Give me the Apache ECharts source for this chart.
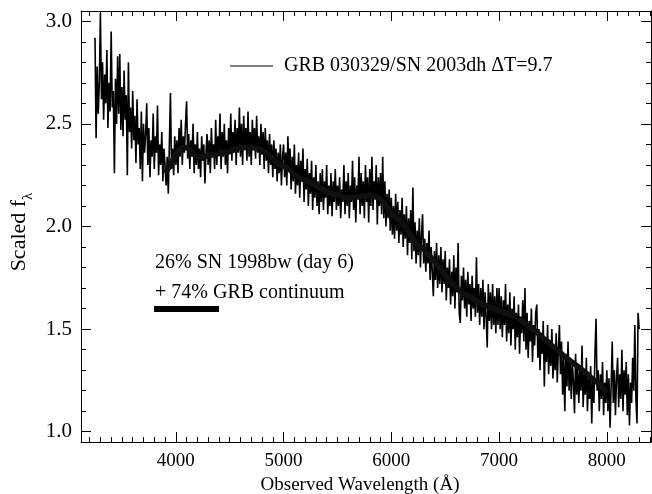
<!DOCTYPE html>
<html>
<head>
<meta charset="utf-8">
<script src="https://cdn.jsdelivr.net/npm/echarts@6.0.0/dist/echarts.min.js"></script>
<style>
  html, body { margin: 0; padding: 0; background: #fff; }
  #chart { width: 652px; height: 494px; }
</style>
</head>
<body>
<div id="chart"></div>
<script>
// Observed spectrum of GRB 030329 / SN 2003dh, sampled every 10 Å from 3250 Å
const SPEC_START = 3250;
const SPEC_STEP = 10;
const specFlux = [
  2.92,2.43,2.78,2.55,2.70,3.04,2.62,2.80,2.52,2.74,
  2.60,2.86,2.48,2.70,2.56,2.95,2.58,2.66,2.26,2.72,
  2.50,2.83,2.55,2.84,2.47,2.68,2.44,2.76,2.52,2.64,
  2.25,2.80,2.46,2.58,2.38,2.66,2.42,2.54,2.31,2.62,
  2.40,2.48,2.28,2.56,2.22,2.50,2.36,2.45,2.60,2.30,
  2.48,2.24,2.42,2.34,2.55,2.28,2.44,2.36,2.59,2.25,
  2.40,2.30,2.46,2.22,2.38,2.30,2.20,2.34,2.16,2.40,
  2.65,2.28,2.38,2.25,2.44,2.30,2.42,2.26,2.48,2.34,
  2.52,2.30,2.44,2.36,2.50,2.61,2.33,2.45,2.28,2.42,
  2.34,2.50,2.26,2.40,2.30,2.46,2.28,2.38,2.24,2.44,
  2.32,2.40,2.21,2.36,2.45,2.30,2.42,2.26,2.48,2.34,
  2.40,2.28,2.52,2.30,2.44,2.36,2.55,2.28,2.46,2.34,
  2.50,2.30,2.42,2.26,2.48,2.36,2.55,2.32,2.46,2.38,
  2.52,2.30,2.48,2.36,2.58,2.34,2.50,2.30,2.54,2.38,
  2.48,2.32,2.56,2.34,2.46,2.30,2.52,2.38,2.48,2.33,
  2.54,2.36,2.44,2.30,2.50,2.35,2.46,2.28,2.48,2.32,
  2.42,2.26,2.45,2.30,2.40,2.24,2.42,2.28,2.38,2.22,
  2.36,2.26,2.40,2.20,2.34,2.40,2.24,2.36,2.20,2.44,
  2.28,2.38,2.18,2.34,2.22,2.40,2.16,2.30,2.20,2.36,
  2.14,2.32,2.22,2.38,2.12,2.28,2.18,2.33,2.10,2.26,
  2.16,2.32,2.08,2.24,2.14,2.30,2.10,2.22,2.06,2.26,
  2.12,2.28,2.08,2.22,2.14,2.30,2.06,2.20,2.10,2.26,
  2.05,2.22,2.12,2.28,2.08,2.20,2.10,2.24,2.04,2.18,
  2.12,2.30,2.06,2.22,2.10,2.26,2.04,2.20,2.12,2.32,
  2.08,2.24,2.02,2.20,2.14,2.34,2.06,2.26,2.10,2.22,
  2.04,2.30,2.12,2.24,2.02,2.28,2.10,2.34,2.08,2.22,
  2.14,2.30,2.01,2.24,2.10,2.26,2.06,2.34,2.04,2.22,
  2.00,2.16,2.04,2.18,1.98,2.14,1.96,2.10,1.94,2.16,
  1.98,2.12,1.92,2.08,1.96,2.14,1.90,2.06,1.94,2.10,
  1.86,2.04,1.92,2.08,1.84,2.19,1.88,2.02,1.82,1.98,
  1.86,2.04,1.80,1.96,2.06,1.82,1.94,1.78,1.92,1.82,
  1.98,1.74,1.90,1.78,1.66,1.88,1.74,1.92,1.70,1.86,
  1.72,1.90,1.68,1.84,1.72,1.88,1.64,1.80,1.70,1.84,
  1.62,1.78,1.66,1.86,1.60,1.80,1.68,1.92,1.58,1.53,
  1.76,1.64,1.80,1.60,1.74,1.56,1.78,1.62,1.72,1.54,
  1.76,1.60,1.70,1.56,1.85,1.58,1.72,1.52,1.70,1.56,
  1.74,1.50,1.68,1.56,1.41,1.72,1.54,1.68,1.50,1.72,
  1.52,1.66,1.48,1.70,1.52,1.70,1.50,1.66,1.46,1.64,
  1.52,1.72,1.44,1.62,1.48,1.68,1.42,1.60,1.50,1.66,
  1.40,1.58,1.46,1.62,1.38,1.56,1.48,1.64,1.44,1.70,
  1.40,1.58,1.36,1.54,1.44,1.60,1.34,1.52,1.42,1.58,
  1.62,1.36,1.50,1.30,1.48,1.38,1.54,1.22,1.46,1.34,
  1.52,1.28,1.44,1.32,1.50,1.26,1.42,1.30,1.48,1.24,
  1.40,1.52,1.28,1.44,1.18,1.36,1.10,1.38,1.22,1.44,
  1.20,1.36,1.16,1.34,1.24,1.09,1.38,1.18,1.32,1.14,
  1.30,1.20,1.42,1.12,1.28,1.18,1.36,1.10,1.26,1.16,
  1.32,1.04,1.26,1.14,1.38,1.55,1.20,1.30,1.10,1.28,
  1.16,1.34,1.08,1.24,1.14,1.30,1.10,1.26,1.02,1.22,
  1.44,1.14,1.30,1.08,1.26,1.36,1.12,1.28,1.16,1.40,
  1.10,1.30,1.18,1.34,1.08,1.28,1.03,1.24,1.14,1.36,
  1.20,1.52,1.16,1.04,1.58,1.50
];

// Template: 26% SN 1998bw (day 6) + 74% GRB continuum, every 50 Å from 3900 Å
const MODEL_START = 3900;
const MODEL_STEP = 50;
const modelFlux = [
  2.26,2.30,2.35,2.38,2.385,2.36,2.34,2.34,2.345,2.35,
  2.355,2.36,2.365,2.375,2.385,2.385,2.385,2.38,2.37,2.355,
  2.33,2.305,2.295,2.28,2.255,2.235,2.225,2.215,2.20,2.185,
  2.17,2.16,2.155,2.145,2.14,2.14,2.145,2.15,2.15,2.145,
  2.135,2.10,2.06,2.04,2.02,1.98,1.94,1.905,1.89,1.86,
  1.83,1.80,1.765,1.73,1.705,1.68,1.665,1.65,1.635,1.62,
  1.61,1.60,1.59,1.58,1.57,1.56,1.545,1.525,1.505,1.485,
  1.46,1.44,1.415,1.395,1.37,1.35,1.33,1.31,1.29,1.265,
  1.245,1.22,1.19
];

const X_RANGE = [3120, 8410];
const Y_RANGE = [0.95, 3.05];

const specLabel = 'GRB 030329/SN 2003dh \u0394T=9.7';
const modelLabel1 = '26% SN 1998bw (day 6)';
const modelLabel2 = '+ 74% GRB continuum';

const SERIF = "'Liberation Serif', 'Times New Roman', Times, serif";

const specData = specFlux.map((f, i) => [SPEC_START + i * SPEC_STEP, f]);
const modelData = modelFlux.map((f, i) => [MODEL_START + i * MODEL_STEP, f]);

const tickCommon = {
  axisLine: { show: true, onZero: false, lineStyle: { color: '#000', width: 1 } },
  axisTick: { show: true, inside: true, length: 10, lineStyle: { color: '#000', width: 1 } },
  minorTick: { show: true, length: 5, lineStyle: { color: '#000', width: 1 } },
  splitLine: { show: false },
  minorSplitLine: { show: false }
};

function xAxisDef(pos, withLabels) {
  return Object.assign({
    type: 'value', position: pos, min: X_RANGE[0], max: X_RANGE[1],
    splitNumber: 5,
    axisLabel: {
      show: withLabels, margin: 10, color: '#000',
      fontFamily: SERIF, fontSize: 19,
      showMinLabel: false, showMaxLabel: false,
      formatter: v => String(Math.round(v))
    }
  }, tickCommon, { minorTick: Object.assign({}, tickCommon.minorTick, { splitNumber: 10 }) });
}

function yAxisDef(pos, withLabels) {
  return Object.assign({
    type: 'value', position: pos, min: Y_RANGE[0], max: Y_RANGE[1],
    splitNumber: 5,
    axisLabel: {
      show: withLabels, margin: 9, color: '#000',
      fontFamily: SERIF, fontSize: 21,
      showMinLabel: false, showMaxLabel: false,
      formatter: v => v.toFixed(1)
    }
  }, tickCommon, { minorTick: Object.assign({}, tickCommon.minorTick, { splitNumber: 5 }) });
}

const xBottom = xAxisDef('bottom', true);
xBottom.name = 'Observed Wavelength (\u00C5)';
xBottom.nameLocation = 'middle';
xBottom.nameGap = 30;
xBottom.nameTextStyle = { fontFamily: SERIF, fontSize: 19, color: '#000', padding: [0, 12, 0, 0] };

const chart = echarts.init(document.getElementById('chart'), null, { renderer: 'canvas' });
chart.setOption({
  animation: false,
  backgroundColor: '#fff',
  grid: { left: 81, right: 1, top: 11, bottom: 52, containLabel: false, outerBoundsMode: 'none' },
  xAxis: [xBottom, xAxisDef('top', false)],
  yAxis: [yAxisDef('left', true), yAxisDef('right', false)],
  series: [
    {
      name: specLabel, type: 'line', data: specData,
      showSymbol: false, symbol: 'none', sampling: null,
      lineStyle: { color: '#000', width: 1.6 }, z: 2
    },
    {
      name: modelLabel1, type: 'line', data: modelData,
      showSymbol: false, symbol: 'none', smooth: 0.3,
      lineStyle: { color: '#101010', width: 5.5 }, z: 3
    }
  ],
  graphic: [
    {
      type: 'text', x: 22, y: 232, rotation: Math.PI / 2,
      style: {
        text: '{m|Scaled f}{s|\u03BB}',
        align: 'center', verticalAlign: 'middle',
        rich: {
          m: { fontFamily: SERIF, fontSize: 22, fill: '#000', verticalAlign: 'bottom', padding: [0, 0, 6, 0] },
          s: { fontFamily: SERIF, fontSize: 15, fill: '#000', verticalAlign: 'bottom' }
        }
      }
    },
    { type: 'line', shape: { x1: 230, y1: 66, x2: 273, y2: 66 }, style: { stroke: '#000', lineWidth: 1 } },
    { type: 'text', x: 284, y: 66, style: { text: specLabel, font: '20px ' + SERIF, fill: '#000', verticalAlign: 'middle' } },
    { type: 'text', x: 155, y: 263, style: { text: modelLabel1, font: '20px ' + SERIF, fill: '#000', verticalAlign: 'middle' } },
    { type: 'text', x: 155, y: 293, style: { text: modelLabel2, font: '20px ' + SERIF, fill: '#000', verticalAlign: 'middle' } },
    { type: 'rect', shape: { x: 154, y: 306, width: 65, height: 6 }, style: { fill: '#000' } }
  ]
});
</script>
</body>
</html>
